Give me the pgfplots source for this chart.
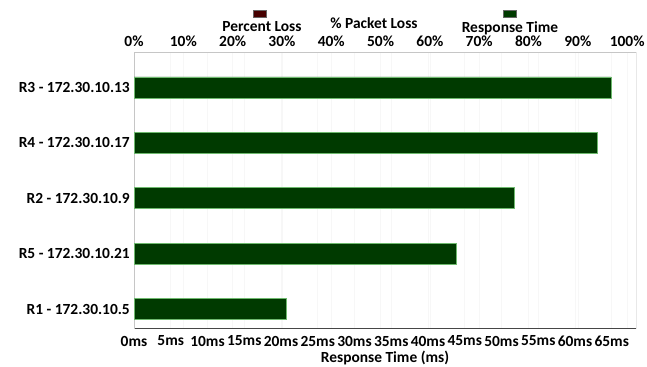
\documentclass[border=0pt]{standalone}
\usepackage{pgfplots}
\pgfplotsset{compat=1.18}
\usepackage{fontspec}
\setmainfont{Carlito}

\definecolor{rtgreen}{RGB}{0,58,0}
\definecolor{rtedge}{RGB}{110,185,110}
\definecolor{lossred}{RGB}{70,0,0}
\definecolor{shadowgray}{RGB}{70,70,70}
\newcommand{\lbl}{\bfseries\fontsize{15.5}{17}\selectfont}

\begin{document}
\begin{tikzpicture}[x=1bp,y=1bp]
\useasboundingbox (0,0) rectangle (647,366);

% upper scale: packet loss in percent
\begin{axis}[
  at={(134bp,38bp)}, anchor=south west, scale only axis,
  width=502bp, height=276bp,
  xmin=0, xmax=101.8, ymin=-0.343, ymax=4.64,
  axis x line*=top, axis y line=none,
  xtick={0,10,...,100},
  xticklabel={\pgfmathprintnumber[assume math mode=true]{\tick}\%},
  xticklabel style={anchor=center, yshift=11bp, font=\lbl},
  major tick length=0pt,
  xmajorgrids, grid style={gray!6, line width=0.6bp},
  axis line style={draw=none},
  xbar, bar width=21bp,
]
\addplot[fill=lossred, draw=none] coordinates {(0,0) (0,1) (0,2) (0,3) (0,4)};
\end{axis}

% lower scale: response time
\begin{axis}[
  at={(134bp,38bp)}, anchor=south west, scale only axis,
  width=502bp, height=276bp,
  xmin=0, xmax=68.3, ymin=-0.343, ymax=4.64,
  xbar, bar width=21bp,
  axis x line*=bottom, axis y line*=left,
  xtick={0,5,...,65},
  xticklabel={\pgfmathprintnumber[assume math mode=true]{\tick}ms},
  xticklabel style={anchor=center, yshift=-13bp},
  ytick={0,...,4},
  yticklabels={R1 - 172.30.10.5, R5 - 172.30.10.21, R2 - 172.30.10.9, R4 - 172.30.10.17, R3 - 172.30.10.13},
  yticklabel style={anchor=east, inner sep=0pt, xshift=-4bp},
  major tick length=0pt,
  xmajorgrids, grid style={gray!6, line width=0.6bp},
  axis line style={gray!45, line width=0.8bp},
  ticklabel style={font=\lbl}, label style={font=\lbl},
  xlabel={Response Time (ms)},
  xlabel style={at={(axis description cs:0.5,0)}, anchor=center, yshift=-30bp},
]
\addplot[fill=rtgreen, draw=rtedge, line width=0.8bp]
  coordinates {(20.8,0) (43.9,1) (51.8,2) (63.0,3) (64.9,4)};
% frame: light top edge, dark lower and right edges
\draw[gray!45, line width=0.8bp] (rel axis cs:0,1) -- (rel axis cs:1,1);
\draw[shadowgray, line width=3bp]
  ([xshift=1bp,yshift=-1.5bp]rel axis cs:0,0) -- ([xshift=1.5bp,yshift=-1.5bp]rel axis cs:1,0)
  -- ([xshift=1.5bp]rel axis cs:1,1);
\end{axis}

% legend and upper axis title
\node[font=\lbl] at (374,343) {\% Packet Loss};
\node[font=\lbl] at (262,339) {Percent Loss};
\node[font=\lbl] at (510,338) {Response Time};
\filldraw[fill=lossred, draw=black!60, line width=0.5bp] (253.5,349) rectangle (266.5,356);
\filldraw[fill=rtgreen, draw=black!60, line width=0.5bp] (503.5,349) rectangle (516.5,356);
\end{tikzpicture}
\end{document}
